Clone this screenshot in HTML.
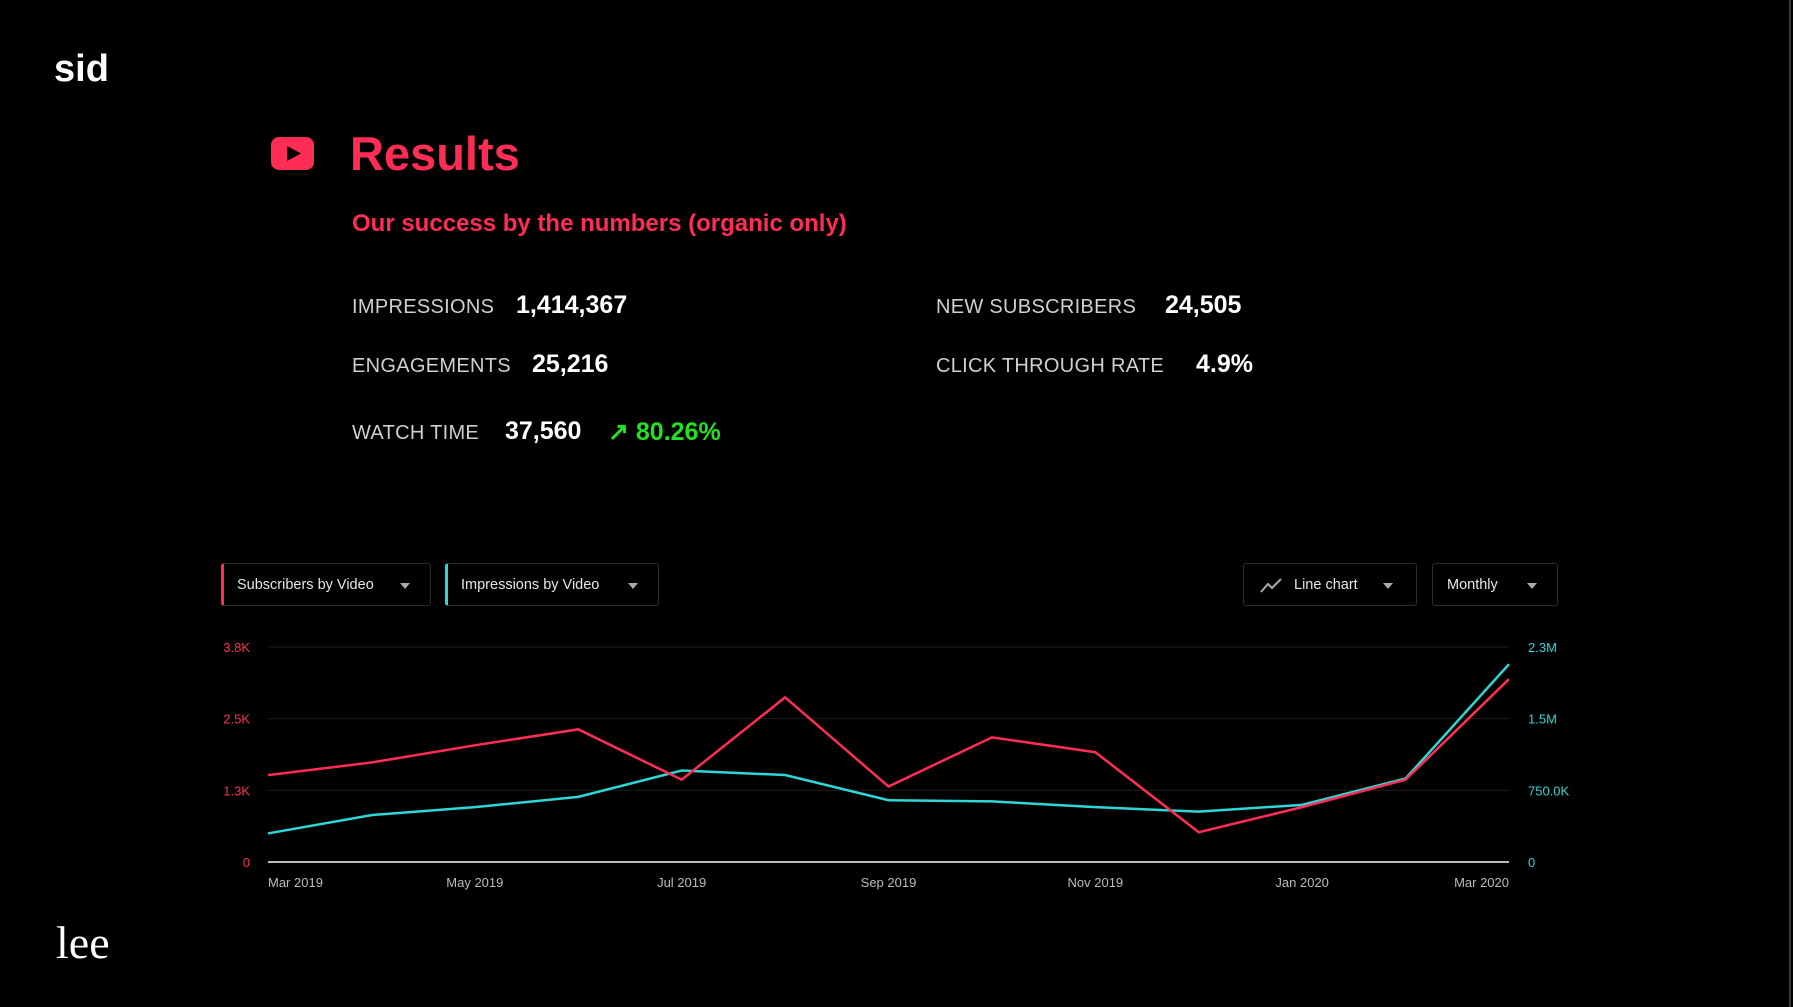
<!DOCTYPE html>
<html><head><meta charset="utf-8">
<style>
body{margin:0;width:1793px;height:1007px;background:#000;overflow:hidden;position:relative;font-family:"Liberation Sans",sans-serif}
.abs{position:absolute;white-space:nowrap}
.lab{color:#cfcfcf;font-size:20px;letter-spacing:0.3px}
.val{color:#fff;font-size:25px;font-weight:bold}
.dd{position:absolute;top:563px;height:43px;border:1px solid #2c2c2c;border-radius:3px;box-sizing:border-box;color:#e6e6e6;font-size:14.5px;line-height:43px}
.caret{position:absolute;top:19px;width:0;height:0;border-left:5px solid transparent;border-right:5px solid transparent;border-top:6px solid #aaa}
</style></head><body>
<div class="abs" style="left:54px;top:48px;color:#fff;font-size:38px;font-weight:bold">sid</div>
<svg class="abs" style="left:271px;top:137px" width="43" height="33" viewBox="0 0 43 33"><rect x="0" y="0" width="43" height="33" rx="8" fill="#ff2d55"/><polygon points="16,9 30,16.5 16,24" fill="#000"/></svg>
<div class="abs" style="left:350px;top:126px;color:#ff2d55;font-size:47px;font-weight:bold">Results</div>
<div class="abs" style="left:352px;top:210px;color:#ff2d55;font-size:24px;font-weight:bold">Our success by the numbers (organic only)</div>

<div class="abs lab" style="left:352px;top:296px">IMPRESSIONS</div>
<div class="abs val" style="left:516px;top:291px">1,414,367</div>
<div class="abs lab" style="left:352px;top:355px">ENGAGEMENTS</div>
<div class="abs val" style="left:532px;top:350px">25,216</div>
<div class="abs lab" style="left:352px;top:422px">WATCH TIME</div>
<div class="abs val" style="left:505px;top:417px">37,560</div>
<div class="abs" style="left:608px;top:417px;color:#22e022;font-size:25px;font-weight:bold">↗ 80.26%</div>
<div class="abs lab" style="left:936px;top:296px">NEW SUBSCRIBERS</div>
<div class="abs val" style="left:1165px;top:291px">24,505</div>
<div class="abs lab" style="left:936px;top:355px">CLICK THROUGH RATE</div>
<div class="abs val" style="left:1196px;top:350px">4.9%</div>

<div class="dd" style="left:221px;width:210px;border-left:3px solid #ff2d55;padding-left:13px">Subscribers by Video<span class="caret" style="left:176px"></span></div>
<div class="dd" style="left:445px;width:214px;border-left:3px solid #2ed6d6;padding-left:13px">Impressions by Video<span class="caret" style="left:180px"></span></div>
<div class="dd" style="left:1243px;width:174px;padding-left:50px"><svg style="position:absolute;left:16px;top:13px" width="22" height="16"><polyline points="1,15 8,7 12,11 21,2" fill="none" stroke="#aaa" stroke-width="2"/></svg>Line chart<span class="caret" style="left:139px"></span></div>
<div class="dd" style="left:1432px;width:126px;padding-left:14px">Monthly<span class="caret" style="left:94px"></span></div>

<svg id="chart" class="abs" style="left:0;top:0" width="1793" height="1007"></svg>
<div class="abs" style="left:1789px;top:0;width:2px;height:1007px;background:#3a3a3a"></div>
<div class="abs" style="left:56px;top:916px;color:#fff;font-size:46px;font-family:'Liberation Serif',serif">lee</div>

<script>
const months=["Mar 2019","Apr 2019","May 2019","Jun 2019","Jul 2019","Aug 2019","Sep 2019","Oct 2019","Nov 2019","Dec 2019","Jan 2020","Feb 2020","Mar 2020"];
const xLabels=["Mar 2019","May 2019","Jul 2019","Sep 2019","Nov 2019","Jan 2020","Mar 2020"];
const subscribers=[1516,1735,2035,2314,1436,2872,1316,2174,1915,519,957,1436,3191];
const impressions=[299000,491000,574000,682000,957000,910000,646000,634000,574000,527000,598000,874000,2070000];
const leftTicks=[0,1250,2500,3750];
const leftTickLabels=["0","1.3K","2.5K","3.8K"];
const rightTicks=[0,750000,1500000,2250000];
const rightTickLabels=["0","750.0K","1.5M","2.3M"];

const NS="http://www.w3.org/2000/svg";
const svg=document.getElementById('chart');
const X0=268,X1=1509,Y0=862,Y1=647;
const x=i=>X0+(X1-X0)*i/(months.length-1);
const yL=v=>Y0-(Y0-Y1)*v/3750;
const yR=v=>Y0-(Y0-Y1)*v/2250000;
function mk(t,a){const e=document.createElementNS(NS,t);for(const k in a)e.setAttribute(k,a[k]);svg.appendChild(e);return e;}
leftTicks.forEach((v,i)=>{
  const g=mk('line',{x1:X0,x2:X1,y1:yL(v),y2:yL(v),stroke:i==0?'#bbb':'#1c1c1c','stroke-width':i==0?2:1});
  
  
  const t=mk('text',{x:250,y:yL(v)+5,'text-anchor':'end',fill:'#ff2d55','font-size':13,'font-family':'Liberation Sans'});
  t.textContent=leftTickLabels[i];
  
  
});
rightTicks.forEach((v,i)=>{
  const t=mk('text',{x:1528,y:yR(v)+5,fill:'#2ed6d6','font-size':13,'font-family':'Liberation Sans'});
  t.textContent=rightTickLabels[i];
  
  
});
xLabels.forEach((l,j)=>{
  const i=months.indexOf(l);
  const anchor=j==0?'start':(j==xLabels.length-1?'end':'middle');
  const t=mk('text',{x:x(i),y:887,'text-anchor':anchor,fill:'#bbb','font-size':13,'font-family':'Liberation Sans'});
  t.textContent=l;
  
  
});
const pc=impressions.map((v,i)=>x(i)+','+yR(v)).join(' ');
const l2=mk('polyline',{points:pc,fill:'none',stroke:'#2ed6d6','stroke-width':2.5});


const ps=subscribers.map((v,i)=>x(i)+','+yL(v)).join(' ');
const l1=mk('polyline',{points:ps,fill:'none',stroke:'#ff2d55','stroke-width':2.5});


</script>
</body></html>
